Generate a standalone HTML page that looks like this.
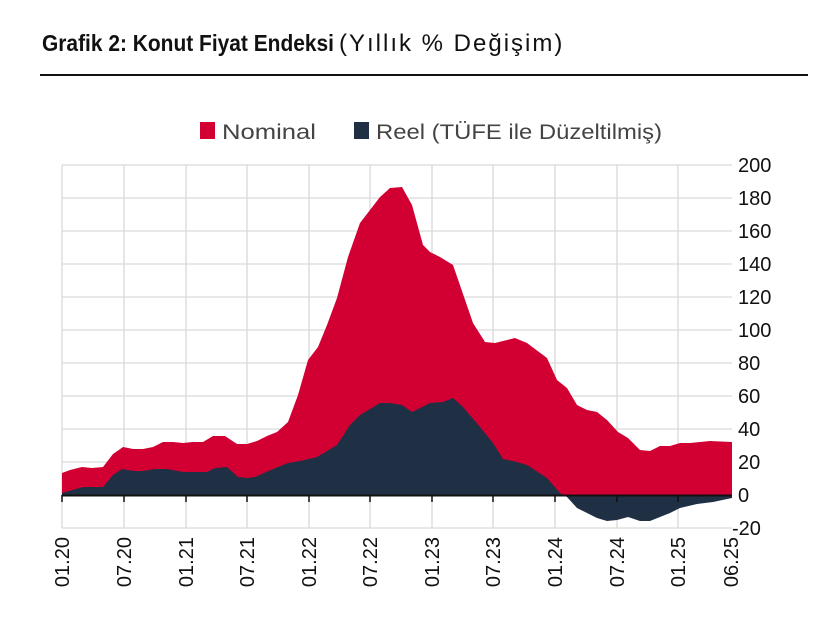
<!DOCTYPE html>
<html><head><meta charset="utf-8"><style>html,body{margin:0;padding:0;background:#fff}svg{display:block}</style></head>
<body>
<svg width="832" height="634" viewBox="0 0 832 634" xmlns="http://www.w3.org/2000/svg" font-family="Liberation Sans, sans-serif">
<text x="42" y="51" font-size="23" fill="#111" font-weight="bold" textLength="292" lengthAdjust="spacingAndGlyphs">Grafik 2: Konut Fiyat Endeksi</text>
<text x="339" y="51" font-size="24" fill="#111" style="letter-spacing:2px">(Yıllık % Değişim)</text>
<rect x="40" y="74" width="768" height="2" fill="#111"/>
<rect x="200" y="122" width="15" height="17" fill="#d20032"/>
<text x="222" y="139" font-size="21" fill="#444" textLength="94" lengthAdjust="spacingAndGlyphs">Nominal</text>
<rect x="354" y="122" width="15" height="17" fill="#1f3044"/>
<text x="376" y="139" font-size="21" fill="#444" textLength="286" lengthAdjust="spacingAndGlyphs">Reel (TÜFE ile Düzeltilmiş)</text>
<g stroke="#d9d9d9" stroke-width="1.3">
<line x1="62" y1="165" x2="732" y2="165"/><line x1="62" y1="198" x2="732" y2="198"/><line x1="62" y1="231" x2="732" y2="231"/><line x1="62" y1="264" x2="732" y2="264"/><line x1="62" y1="297" x2="732" y2="297"/><line x1="62" y1="330" x2="732" y2="330"/><line x1="62" y1="363" x2="732" y2="363"/><line x1="62" y1="396" x2="732" y2="396"/><line x1="62" y1="429" x2="732" y2="429"/><line x1="62" y1="462" x2="732" y2="462"/><line x1="62" y1="528" x2="732" y2="528"/>
<line x1="62" y1="165" x2="62" y2="528"/><line x1="124" y1="165" x2="124" y2="528"/><line x1="186" y1="165" x2="186" y2="528"/><line x1="247" y1="165" x2="247" y2="528"/><line x1="309" y1="165" x2="309" y2="528"/><line x1="370" y1="165" x2="370" y2="528"/><line x1="432" y1="165" x2="432" y2="528"/><line x1="493" y1="165" x2="493" y2="528"/><line x1="555" y1="165" x2="555" y2="528"/><line x1="617" y1="165" x2="617" y2="528"/><line x1="678" y1="165" x2="678" y2="528"/>
</g>
<polygon fill="#d20032" points="62,495 62,473 70,470 82,467 92,468 103,467 113,454 123,447 133,449 143,449 153,447 163,442 173,442 183,443 193,442 203,442 213,436 225,436 237,444 247,444 257,441 267,436 277,432 288,422 298,395 308,360 318,347 327,325 337,298 348,257 360,223 380,197 390,188 402,187 412,205 423,245 430,252 440,257 453,265 473,323 485,342 495,343 515,338 527,343 547,358 557,380 567,388 577,405 587,410 597,412 607,420 618,432 628,438 640,450 650,451 660,446 670,446 680,443 690,443 710,441 732,442 732,495"/>
<polygon fill="#1f3044" points="62,495 62,493 83,487 103,487 113,475 122,469 133,471 143,471 155,469 167,469 183,472 207,472 215,468 227,467 238,477 247,478 255,477 273,469 288,463 300,461 317,457 337,445 350,425 360,415 380,403 390,403 402,405 412,412 430,403 443,402 453,398 463,407 480,427 493,443 503,459 513,461 527,465 547,478 560,493 567,497 577,508 597,518 607,521 617,520 628,517 640,521 650,521 660,517 670,513 680,508 697,504 713,502 732,498 732,495"/>
<line x1="62" y1="495.5" x2="732" y2="495.5" stroke="#111" stroke-width="2"/>
<g stroke="#111" stroke-width="1.5">
<line x1="62" y1="495" x2="62" y2="502"/><line x1="124" y1="495" x2="124" y2="502"/><line x1="186" y1="495" x2="186" y2="502"/><line x1="247" y1="495" x2="247" y2="502"/><line x1="309" y1="495" x2="309" y2="502"/><line x1="370" y1="495" x2="370" y2="502"/><line x1="432" y1="495" x2="432" y2="502"/><line x1="493" y1="495" x2="493" y2="502"/><line x1="555" y1="495" x2="555" y2="502"/><line x1="617" y1="495" x2="617" y2="502"/><line x1="678" y1="495" x2="678" y2="502"/>
</g>
<g font-size="20" fill="#111">
<text x="738" y="172">200</text><text x="738" y="205">180</text><text x="738" y="238">160</text><text x="738" y="271">140</text><text x="738" y="304">120</text><text x="738" y="337">100</text><text x="738" y="370">80</text><text x="738" y="403">60</text><text x="738" y="436">40</text><text x="738" y="469">20</text><text x="738" y="502">0</text><text x="732" y="535">-20</text>
</g>
<g font-size="20" fill="#111" text-anchor="end">
<text transform="translate(69,537) rotate(-90)">01.20</text>
<text transform="translate(131,537) rotate(-90)">07.20</text>
<text transform="translate(193,537) rotate(-90)">01.21</text>
<text transform="translate(254,537) rotate(-90)">07.21</text>
<text transform="translate(316,537) rotate(-90)">01.22</text>
<text transform="translate(377,537) rotate(-90)">07.22</text>
<text transform="translate(439,537) rotate(-90)">01.23</text>
<text transform="translate(500,537) rotate(-90)">07.23</text>
<text transform="translate(562,537) rotate(-90)">01.24</text>
<text transform="translate(624,537) rotate(-90)">07.24</text>
<text transform="translate(685,537) rotate(-90)">01.25</text>
<text transform="translate(738,537) rotate(-90)">06.25</text>
</g>
</svg>
</body></html>
